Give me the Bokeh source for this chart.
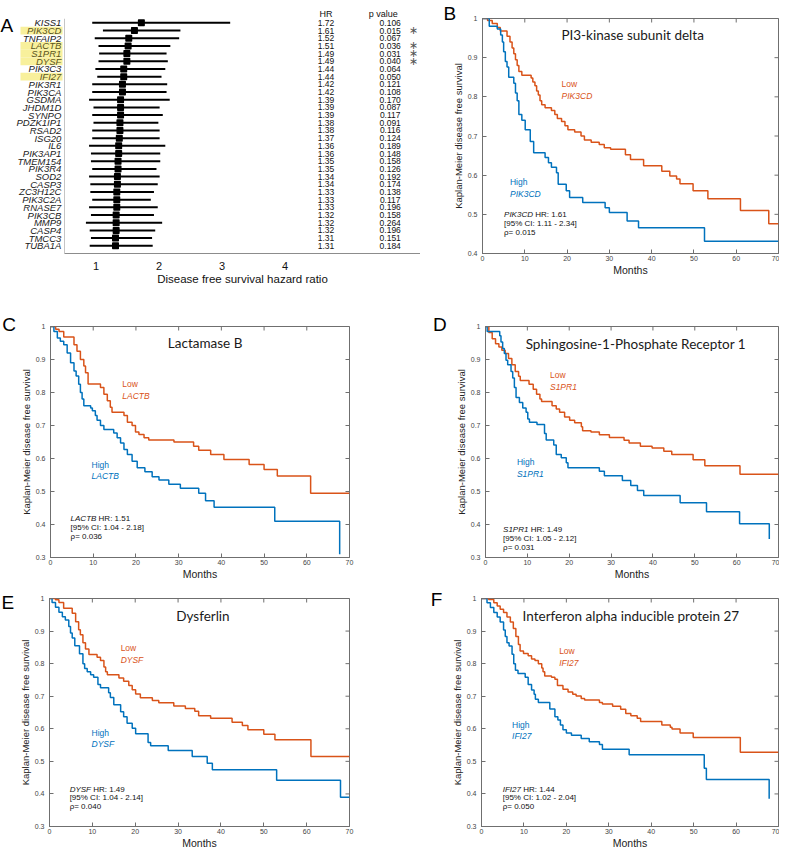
import numpy as np
from bokeh.plotting import figure
from bokeh.layouts import row, column
from bokeh.models import Range1d, FixedTicker, Span
from bokeh.core.properties import value
from bokeh.embed import file_html
from bokeh.resources import INLINE

# ---------------- Panel A data ----------------
genes = ["KISS1", "PIK3CD", "TNFAIP2", "LACTB", "S1PR1", "DYSF", "PIK3C3", "IFI27",
         "PIK3R1", "PIK3CA", "GSDMA", "JHDM1D", "SYNPO", "PDZK1IP1", "RSAD2", "ISG20",
         "IL6", "PIK3AP1", "TMEM154", "PIK3R4", "SOD2", "CASP3", "ZC3H12C", "PIK3C2A",
         "RNASE7", "PIK3CB", "MMP9", "CASP4", "TMCC3", "TUBA1A"]
hr = [1.72, 1.61, 1.52, 1.51, 1.49, 1.49, 1.44, 1.44, 1.42, 1.42, 1.39, 1.39, 1.39, 1.38,
      1.38, 1.37, 1.36, 1.36, 1.35, 1.35, 1.34, 1.34, 1.33, 1.33, 1.33, 1.32, 1.32, 1.32,
      1.31, 1.31]
ci_low = [0.94, 1.11, 0.98, 1.04, 1.05, 1.04, 0.99, 1.02, 0.94, 0.94, 0.89, 0.96, 0.94, 0.96,
          0.94, 0.94, 0.89, 0.92, 0.92, 0.94, 0.89, 0.91, 0.91, 0.94, 0.89, 0.92, 0.84, 0.90,
          0.92, 0.90]
ci_high = [3.13, 2.34, 2.32, 2.18, 2.12, 2.14, 2.10, 2.04, 2.13, 2.12, 2.17, 2.01, 2.06, 1.99,
           2.01, 2.01, 2.10, 2.02, 2.02, 1.96, 2.01, 1.98, 1.92, 1.87, 1.98, 1.92, 2.05, 1.94,
           1.89, 1.90]
pvals = ["0.106", "0.015", "0.067", "0.036", "0.031", "0.040", "0.064", "0.050", "0.121",
         "0.108", "0.170", "0.087", "0.117", "0.091", "0.116", "0.124", "0.189", "0.148",
         "0.158", "0.126", "0.192", "0.174", "0.138", "0.117", "0.196", "0.158", "0.264",
         "0.196", "0.151", "0.184"]
highlighted = ["PIK3CD", "LACTB", "S1PR1", "DYSF", "IFI27"]
significant = ["PIK3CD", "LACTB", "S1PR1", "DYSF"]
a_ticks = [1, 2, 3, 4]

# ---------------- Kaplan-Meier data ----------------
b_low_t = [0, 1.2, 2.3, 3.5, 4.2, 5.8, 6.5, 7.0, 7.4, 7.8, 8.2, 8.6, 9.3, 11.5, 11.9, 12.4, 12.8,
           13.2, 13.6, 14.0, 14.8, 16.3, 17.1, 17.7, 18.7, 19.5, 20.2, 21.8, 23.3, 24.1, 25.7,
           27.6, 28.8, 30.3, 33.8, 35.0, 38.1, 42.4, 44.3, 45.9, 46.7, 49.8, 53.3, 61.0, 67.7, 70]
b_low_s = [1.0, 0.995, 0.987, 0.977, 0.968, 0.955, 0.94, 0.925, 0.91, 0.895, 0.88, 0.865, 0.855,
           0.848, 0.838, 0.828, 0.815, 0.805, 0.79, 0.78, 0.772, 0.765, 0.755, 0.745, 0.737,
           0.726, 0.716, 0.71, 0.70, 0.69, 0.684, 0.678, 0.67, 0.666, 0.652, 0.64, 0.624, 0.61,
           0.598, 0.59, 0.578, 0.56, 0.54, 0.51, 0.476, 0.476]
b_high_t = [0, 1.6, 3.5, 4.3, 4.7, 5.0, 5.4, 5.8, 6.2, 7.4, 7.8, 8.2, 8.6, 9.3, 10.1, 11.3, 12.1,
            14.8, 15.6, 16.3, 17.5, 17.9, 19.8, 20.6, 23.7, 29.0, 30.0, 34.2, 36.9, 52.5, 70]
b_high_s = [1.0, 0.98, 0.973, 0.958, 0.94, 0.915, 0.89, 0.876, 0.85, 0.835, 0.81, 0.79, 0.755,
            0.74, 0.716, 0.686, 0.657, 0.645, 0.632, 0.62, 0.606, 0.577, 0.56, 0.543, 0.53,
            0.517, 0.505, 0.483, 0.466, 0.431, 0.431]

c_low_t = [0, 1.2, 2.0, 3.1, 5.5, 6.2, 7.0, 7.8, 8.2, 8.8, 11.7, 12.5, 13.3, 14.0, 14.4, 17.2,
           18.0, 19.1, 19.9, 20.7, 21.9, 23.0, 28.9, 33.5, 34.7, 37.5, 40.6, 46.5, 50.0, 53.1,
           60.9, 70]
c_low_s = [1.0, 0.992, 0.985, 0.968, 0.945, 0.925, 0.90, 0.88, 0.86, 0.826, 0.815, 0.795, 0.775,
           0.755, 0.74, 0.73, 0.71, 0.70, 0.68, 0.673, 0.663, 0.656, 0.65, 0.637, 0.625, 0.612,
           0.597, 0.582, 0.567, 0.547, 0.495, 0.495]
c_high_t = [0, 0.8, 1.6, 2.3, 3.1, 3.9, 4.7, 5.5, 6.0, 6.6, 7.0, 7.4, 7.8, 9.4, 9.8, 10.5, 10.9,
            11.7, 12.5, 14.8, 15.6, 16.4, 17.2, 18.0, 19.1, 20.3, 22.1, 23.8, 25.4, 27.7, 30.4,
            34.7, 36.3, 38.3, 52.5, 67.7]
c_high_s = [1.0, 0.985, 0.965, 0.955, 0.945, 0.92, 0.89, 0.865, 0.85, 0.825, 0.80, 0.78, 0.76,
            0.753, 0.745, 0.73, 0.716, 0.70, 0.688, 0.677, 0.663, 0.647, 0.627, 0.612, 0.592,
            0.572, 0.56, 0.545, 0.535, 0.522, 0.51, 0.495, 0.472, 0.452, 0.41, 0.31]

d_low_t = [0, 0.8, 1.6, 2.4, 3.2, 3.9, 4.7, 5.5, 6.3, 7.1, 7.9, 8.3, 10.4, 11.4, 12.2, 13.0, 13.4,
           15.9, 16.9, 17.7, 18.9, 20.1, 21.3, 22.9, 23.2, 25.2, 27.2, 29.6, 33.1, 34.3, 37.0,
           39.8, 42.6, 44.5, 49.6, 52.4, 60.8, 70]
d_low_s = [1.0, 0.982, 0.963, 0.948, 0.938, 0.928, 0.918, 0.903, 0.884, 0.864, 0.849, 0.836,
           0.825, 0.81, 0.795, 0.78, 0.773, 0.76, 0.75, 0.74, 0.726, 0.716, 0.708, 0.696, 0.684,
           0.68, 0.672, 0.664, 0.655, 0.647, 0.637, 0.632, 0.622, 0.612, 0.596, 0.578, 0.552,
           0.552]
d_high_t = [0, 0.4, 3.4, 3.7, 4.1, 4.5, 4.9, 5.3, 6.1, 6.5, 6.9, 7.3, 8.1, 8.9, 9.7, 10.1, 10.5,
            12.3, 14.1, 14.5, 16.3, 16.9, 18.1, 19.3, 19.7, 27.2, 28.4, 32.7, 34.7, 36.3, 37.8,
            46.5, 52.8, 60.7, 67.8]
d_high_s = [1.0, 0.985, 0.972, 0.953, 0.933, 0.918, 0.898, 0.884, 0.864, 0.844, 0.815, 0.785,
            0.77, 0.753, 0.74, 0.72, 0.71, 0.703, 0.676, 0.656, 0.641, 0.612, 0.602, 0.587,
            0.572, 0.561, 0.548, 0.533, 0.518, 0.503, 0.488, 0.466, 0.439, 0.402, 0.356]

e_low_t = [0, 1.4, 2.2, 3.3, 5.3, 6.1, 6.8, 7.2, 7.8, 8.4, 9.2, 11.1, 11.9, 12.7, 13.1, 13.5,
           16.2, 17.3, 18.5, 19.3, 20.1, 21.2, 24.0, 25.5, 29.0, 31.7, 33.9, 34.8, 37.6, 42.6,
           45.0, 46.3, 50.0, 52.6, 61.0, 70]
e_low_s = [1.0, 0.996, 0.988, 0.97, 0.955, 0.929, 0.904, 0.889, 0.864, 0.845, 0.828, 0.82,
           0.81, 0.79, 0.775, 0.766, 0.756, 0.746, 0.733, 0.72, 0.707, 0.695, 0.687, 0.68, 0.67,
           0.662, 0.654, 0.64, 0.632, 0.62, 0.61, 0.597, 0.583, 0.566, 0.515, 0.515]
e_high_t = [0, 0.6, 1.4, 2.2, 3.0, 3.7, 4.5, 4.9, 5.3, 5.9, 7.0, 7.8, 8.2, 8.8, 9.6, 10.3, 11.3,
            11.9, 13.8, 14.2, 15.0, 16.6, 17.3, 18.1, 19.3, 20.1, 23.0, 23.6, 27.7, 33.3, 36.8,
            38.0, 53.0, 67.9, 70]
e_high_s = [1.0, 0.988, 0.973, 0.958, 0.944, 0.934, 0.914, 0.894, 0.879, 0.855, 0.83, 0.80,
            0.785, 0.775, 0.766, 0.758, 0.736, 0.726, 0.711, 0.696, 0.674, 0.652, 0.637, 0.617,
            0.602, 0.585, 0.558, 0.548, 0.533, 0.515, 0.494, 0.474, 0.442, 0.39, 0.39]

f_low_t = [0, 1.7, 2.9, 3.7, 4.4, 5.2, 6.0, 6.8, 7.5, 8.1, 8.7, 9.1, 9.9, 11.0, 11.8, 12.6, 13.4,
           14.2, 14.5, 14.9, 16.5, 17.3, 17.9, 19.2, 20.4, 21.5, 22.3, 23.5, 24.3, 27.8, 28.5,
           30.9, 32.8, 34.0, 35.2, 36.7, 37.5, 42.5, 44.5, 44.9, 46.8, 49.9, 61.0, 70]
f_low_s = [1.0, 0.997, 0.987, 0.977, 0.967, 0.957, 0.943, 0.928, 0.908, 0.883, 0.859, 0.839,
           0.831, 0.824, 0.814, 0.81, 0.80, 0.787, 0.775, 0.762, 0.758, 0.752, 0.733, 0.721,
           0.713, 0.706, 0.701, 0.693, 0.688, 0.681, 0.676, 0.669, 0.66, 0.647, 0.64, 0.632,
           0.622, 0.612, 0.605, 0.599, 0.587, 0.573, 0.528, 0.528]
f_high_t = [0, 1.3, 2.1, 2.9, 3.7, 4.4, 5.2, 5.6, 6.0, 6.5, 7.2, 7.6, 8.0, 8.6, 10.3, 11.0, 11.8,
            12.4, 12.7, 13.4, 16.1, 17.3, 18.0, 18.6, 19.2, 20.0, 21.2, 23.5, 25.4, 27.8, 28.5,
            34.8, 52.5, 53.0, 67.8]
f_high_s = [1.0, 0.987, 0.972, 0.957, 0.943, 0.928, 0.903, 0.883, 0.864, 0.854, 0.829, 0.80,
            0.78, 0.77, 0.758, 0.736, 0.719, 0.706, 0.691, 0.681, 0.661, 0.637, 0.627, 0.612,
            0.597, 0.587, 0.58, 0.57, 0.56, 0.552, 0.537, 0.52, 0.479, 0.444, 0.385]

months_ticks = [0, 10, 20, 30, 40, 50, 60, 70]

ORANGE = "#D95319"
BLUE = "#0072BD"
FRAME = "#6f6f6f"
SANS = "Liberation Sans"
TITLE_FONT = "Lato"

# Arial-like advance widths (em) used to place the regular text after an italic gene name
_W = {"A": .667, "B": .667, "C": .722, "D": .722, "E": .667, "F": .611, "I": .278, "K": .667,
      "L": .556, "P": .667, "R": .722, "S": .667, "T": .611, "Y": .667, " ": .278}


def text_width(s, size):
    return sum(_W.get(ch, .556) for ch in s) * size


def otext(p, x, y, t, size, color="#111111", style="normal", align="left", font=SANS):
    p.text(x=x, y=y, text=t, text_font=value(font), text_font_size="%spx" % size,
           text_font_style=style, text_color=color, text_align=align,
           text_baseline="middle", level="overlay")


# ---------------- Panel A ----------------
n = len(genes)
idx = list(range(n))
pa = figure(width=420, height=306, x_range=Range1d(0.5, 0.5 + 356 / 63),
            y_range=Range1d(30.0, -0.568), output_backend="svg", toolbar_location=None,
            min_border_left=64, min_border_right=0, min_border_top=8, min_border_bottom=29)
pa.outline_line_color = None
pa.grid.visible = False
pa.yaxis.visible = False
pa.xaxis.ticker = FixedTicker(ticks=a_ticks)
pa.xaxis.axis_line_color = "#8c8c8c"
pa.xaxis.major_tick_line_color = None
pa.xaxis.minor_tick_line_color = None
pa.xaxis.major_label_text_font = SANS
pa.xaxis.major_label_text_font_size = "11px"
pa.xaxis.major_label_text_color = "#111111"
pa.xaxis.major_label_standoff = 2
pa.xaxis.axis_label = "Disease free survival hazard ratio"
pa.xaxis.axis_label_text_font = SANS
pa.xaxis.axis_label_text_font_size = "11.5px"
pa.xaxis.axis_label_text_font_style = "normal"
pa.xaxis.axis_label_text_color = "#111111"
pa.xaxis.axis_label_standoff = 0
pa.add_layout(Span(location=0.5, dimension="height", line_color="#8c8c8c", line_width=1))

hl_idx = [genes.index(g) for g in highlighted]
pa.rect(x=[0.135] * len(hl_idx), y=hl_idx, width=0.667, height=1.0,
        fill_color="#f8f09c", line_color=None, level="annotation")
gene_colors = ["#5a5420" if g in highlighted else "#1a1a1a" for g in genes]
otext(pa, [0.45] * n, idx, genes, 9.5, color=gene_colors, style="italic", align="right")

pa.segment(x0=ci_low, y0=idx, x1=ci_high, y1=idx, line_color="black", line_width=2)
pa.scatter(x=hr, y=idx, marker="square", size=5.5, fill_color="black", line_color="black",
           line_width=1.5, line_join="round")

otext(pa, [4.65] * n, idx, ["%.2f" % v for v in hr], 8.5, align="center")
otext(pa, [5.67] * n, idx, pvals, 8.5, align="center")
sig_idx = [genes.index(g) for g in significant]
otext(pa, [6.04] * len(sig_idx), sig_idx, ["\u2217"] * len(sig_idx), 11, color="#555555",
      align="center", font="DejaVu Sans")
otext(pa, [4.65, 5.56], [-1.14, -1.14], ["HR", "p value"], 9, align="center")
otext(pa, [-0.516], [0.34], ["A"], 19, color="black")


# ---------------- KM panels ----------------
def km_panel(width, height, bl, br, bt, bb, ymin, low_t, low_s, high_t, high_s,
             gene, title, stats, ann):
    p = figure(width=width, height=height, x_range=Range1d(0, 70), y_range=Range1d(ymin, 1.0),
               output_backend="svg", toolbar_location=None, min_border_left=bl,
               min_border_right=br, min_border_top=bt, min_border_bottom=bb)
    frame_w = width - bl - br
    p.grid.visible = False
    p.outline_line_color = FRAME
    p.outline_line_width = 1
    yticks = [round(v, 1) for v in np.arange(ymin, 1.001, 0.1)]
    for ax, tk in ((p.xaxis[0], months_ticks), (p.yaxis[0], yticks)):
        ax.ticker = FixedTicker(ticks=tk)
        ax.axis_line_color = FRAME
        ax.major_tick_line_color = FRAME
        ax.major_tick_in = 4
        ax.major_tick_out = 0
        ax.minor_tick_line_color = None
        ax.major_label_text_font = SANS
        ax.major_label_text_font_size = "7px"
        ax.major_label_text_color = "#444444"
        ax.axis_label_text_font = SANS
        ax.axis_label_text_font_style = "normal"
        ax.axis_label_text_color = "#222222"
    p.yaxis.major_label_overrides = {1.0: "1"}
    p.xaxis.major_label_standoff = 2
    p.yaxis.major_label_standoff = 5
    p.xaxis.axis_label = "Months"
    p.xaxis.axis_label_text_font_size = "10.5px"
    p.xaxis.axis_label_standoff = 0
    p.yaxis.axis_label = "Kaplan-Meier disease free survival"
    p.yaxis.axis_label_text_font_size = "9.5px"
    p.yaxis.axis_label_standoff = 1
    # inward ticks on the right and top edges of the box (half of each dash is clipped)
    p.scatter(x=[70] * len(yticks), y=yticks, marker="dash", size=8, line_color=FRAME,
              line_width=1)
    p.scatter(x=months_ticks, y=[1.0] * len(months_ticks), marker="dash", size=8,
              angle=np.pi / 2, line_color=FRAME, line_width=1)

    p.step(x=low_t, y=low_s, mode="after", line_color=ORANGE, line_width=1.5)
    p.step(x=high_t, y=high_s, mode="after", line_color=BLUE, line_width=1.5)

    tx, ty = ann["title"]
    otext(p, [tx], [ty], [title], 13.5, color="#1a1a1a", align="center", font=TITLE_FONT)
    lx, ly1, ly2 = ann["low"]
    otext(p, [lx], [ly1], ["Low"], 8.5, color=ORANGE)
    otext(p, [lx], [ly2], [gene], 8.5, color=ORANGE, style="italic")
    hx, hy1, hy2 = ann["high"]
    otext(p, [hx], [hy1], ["High"], 8.5, color=BLUE)
    otext(p, [hx], [hy2], [gene], 8.5, color=BLUE, style="italic")
    sx, sy1, sy2, sy3 = ann["stats"]
    hrv, lo, hi, pv = stats
    stats_size = 8
    shx = sx + text_width(gene + " ", stats_size) * 70.0 / frame_w
    otext(p, [sx], [sy1], [gene], stats_size, style="italic")
    otext(p, [shx, sx, sx], [sy1, sy2, sy3],
          ["HR: %s" % hrv, "[95%% CI: %s - %s]" % (lo, hi), "\u03c1= %s" % pv], stats_size)
    letter, lxx, lyy, align = ann["letter"]
    otext(p, [lxx], [lyy], [letter], 19, color="black", align=align)
    return p


pb = km_panel(359, 306, 62, 1, 18, 53, 0.4, b_low_t, b_low_s, b_high_t, b_high_s,
              "PIK3CD", "PI3-kinase subunit delta", ("1.61", "1.11", "2.34", "0.015"),
              {"title": (35.5, 0.957), "low": (18.7, 0.833, 0.803),
               "high": (6.5, 0.582, 0.552), "stats": (5.1, 0.499, 0.476, 0.453),
               "letter": ("B", -7.7, 1.0127, "center")})
pc = km_panel(420, 276, 50, 71, 20, 24, 0.3, c_low_t, c_low_s, c_high_t, c_high_s,
              "LACTB", "Lactamase B", ("1.51", "1.04", "2.18", "0.036"),
              {"title": (36.2, 0.951), "low": (16.8, 0.826, 0.790),
               "high": (9.6, 0.581, 0.548), "stats": (4.7, 0.417, 0.390, 0.363),
               "letter": ("C", -11.3, 1.005, "left")})
pd_ = km_panel(359, 276, 65, 1, 20, 24, 0.3, d_low_t, d_low_s, d_high_t, d_high_s,
               "S1PR1", "Sphingosine-1-Phosphate Receptor 1", ("1.49", "1.05", "2.12", "0.031"),
               {"title": (35.9, 0.947), "low": (15.4, 0.852, 0.817),
                "high": (7.5, 0.589, 0.553), "stats": (4.2, 0.385, 0.358, 0.331),
                "letter": ("D", -10.9, 1.006, "center")})
pe = km_panel(420, 269, 49, 71, 16, 23, 0.3, e_low_t, e_low_s, e_high_t, e_high_s,
              "DYSF", "Dysferlin", ("1.49", "1.04", "2.14", "0.040"),
              {"title": (35.8, 0.946), "low": (16.6, 0.848, 0.812),
               "high": (9.8, 0.587, 0.554), "stats": (4.7, 0.415, 0.388, 0.361),
               "letter": ("E", -11.2, 0.987, "left")})
pf = km_panel(359, 269, 61, 1, 16, 23, 0.3, f_low_t, f_low_s, f_high_t, f_high_s,
              "IFI27", "Interferon alpha inducible protein 27", ("1.44", "1.02", "2.04", "0.050"),
              {"title": (35.2, 0.945), "low": (18.3, 0.838, 0.802),
               "high": (7.2, 0.613, 0.577), "stats": (5.0, 0.415, 0.388, 0.361),
               "letter": ("F", -10.6, 0.998, "center")})

layout = column(row(pa, pb), row(pc, pd_), row(pe, pf))
open("out.html", "w").write(file_html(layout, INLINE))
